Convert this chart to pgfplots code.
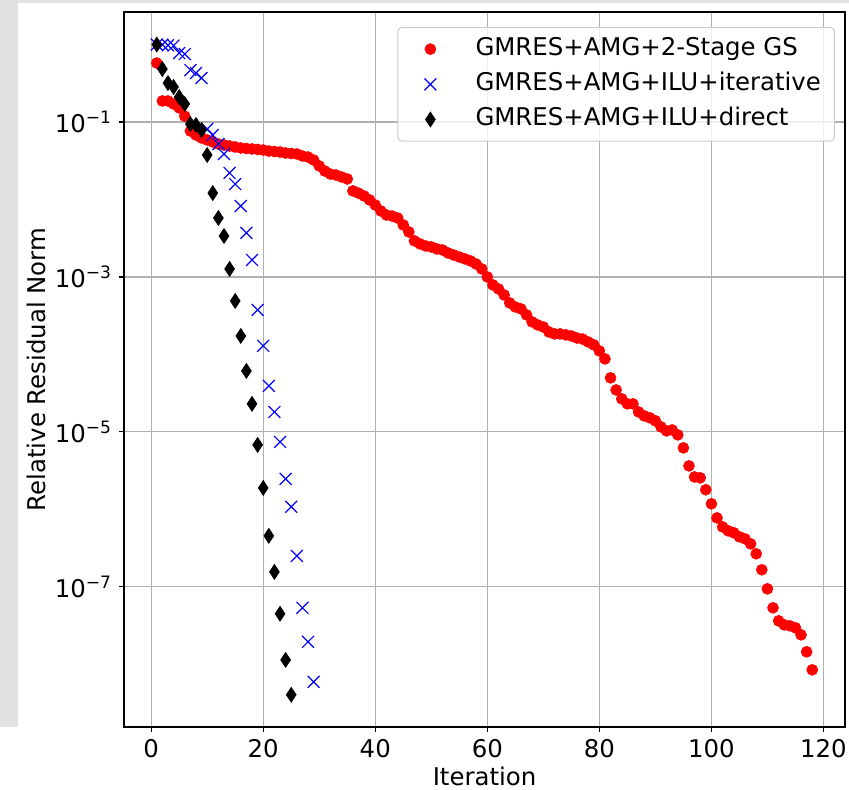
\documentclass[border=0pt]{standalone}
\usepackage{fontspec}
\setmainfont{DejaVu Sans}
\usepackage{pgfplots}
\pgfplotsset{compat=1.18}
\definecolor{gridgray}{RGB}{176,176,176}
\definecolor{leggray}{RGB}{204,204,204}
\definecolor{framegray}{RGB}{226,226,226}
\newcommand{\fs}{\fontsize{12.2}{14.6}\selectfont}
\begin{document}
\begin{tikzpicture}
\path[use as bounding box] (-62pt,-31pt) rectangle (362.5pt,363.5pt);
\fill[framegray] (-62pt,0pt) rectangle (-53pt,363.5pt);
\fill[framegray] (-62pt,362pt) rectangle (362.5pt,363.5pt);
\begin{axis}[
  at={(0pt,0pt)}, anchor=south west,
  scale only axis, width=360.5pt, height=357.5pt,
  xmin=-4.85, xmax=123.85,
  ymode=log, ymin=1.55e-9, ymax=2.63,
  xtick={0,20,...,120}, xticklabels={0,20,40,60,80,100,120},
  ytick={1e-1,1e-3,1e-5,1e-7},
  yticklabels={10\textsuperscript{−1},10\textsuperscript{−3},10\textsuperscript{−5},10\textsuperscript{−7}},
  yminorticks=false, xminorticks=false,
  grid=major, major grid style={gridgray, line width=0.55pt},
  axis line style={black, line width=0.55pt},
  tick align=outside, major tick length=2.45pt,
  tick style={black, line width=0.55pt},
  xtick pos=bottom, ytick pos=left,
  tick label style={font=\fs},
  label style={font=\fs},
  xlabel={Iteration}, ylabel={Relative Residual Norm},
  xlabel style={at={(axis description cs:0.5,-0.0811)}, anchor=base},
  ylabel style={at={(axis description cs:-0.1082,0.5)}, anchor=base},
  legend style={at={(axis description cs:0.9861,0.9790)}, anchor=north east,
    draw=leggray, line width=0.5pt, rounded corners=2pt, fill=white,
    fill opacity=0.8, text opacity=1, font=\fs,
    inner xsep=3pt, inner ysep=2pt, column sep=0pt,
    nodes={inner xsep=3.8pt, inner ysep=3.1pt, text height=8.8pt, text depth=2.6pt}},
  legend cell align=left,
  legend image code/.code={\path (0pt,0pt) (31.5pt,0pt); \draw[#1, sharp corners, fill opacity=1, draw opacity=1] plot coordinates {(13pt,0pt)};},
]
\addplot[only marks, mark=*, mark size=2.75pt, color=red, mark options={line width=0.3pt}] coordinates {
(1,0.577)(2,0.187)(3,0.187)(4,0.171)(5,0.152)(6,0.119)(7,0.0766)(8,0.0679)(9,0.0622)(10,0.0586)
(11,0.0552)(12,0.0520)(13,0.0505)(14,0.0490)(15,0.0476)(16,0.0462)(17,0.0455)(18,0.0449)(19,0.0442)(20,0.0435)
(21,0.0422)(22,0.0416)(23,0.0410)(24,0.0398)(25,0.0392)(26,0.0387)(27,0.0364)(28,0.0353)(29,0.0323)(30,0.0271)
(31,0.0233)(32,0.0213)(33,0.0207)(34,0.0195)(35,0.0184)(36,0.0129)(37,0.0121)(38,0.0111)(39,0.00986)(40,0.00849)
(41,0.00711)(42,0.00631)(43,0.00612)(44,0.00577)(45,0.00469)(46,0.00381)(47,0.00292)(48,0.00267)(49,0.00251)(50,0.00244)
(51,0.00230)(52,0.00223)(53,0.00204)(54,0.00192)(55,0.00181)(56,0.00171)(57,0.00161)(58,0.00147)(59,0.00127)(60,0.00100)
(61,7.88e-4)(62,7.00e-4)(63,5.86e-4)(64,4.62e-4)(65,4.10e-4)(66,3.87e-4)(67,3.24e-4)(68,2.63e-4)(69,2.40e-4)(70,2.26e-4)
(71,1.95e-4)(72,1.84e-4)(73,1.84e-4)(74,1.79e-4)(75,1.73e-4)(76,1.63e-4)(77,1.58e-4)(78,1.45e-4)(79,1.33e-4)(80,1.11e-4)
(81,8.75e-5)(82,4.98e-5)(83,3.48e-5)(84,2.67e-5)(85,2.30e-5)(86,2.30e-5)(87,1.81e-5)(88,1.61e-5)(89,1.52e-5)(90,1.39e-5)
(91,1.16e-5)(92,1.03e-5)(93,1.06e-5)(94,9.15e-6)(95,6.22e-6)(96,3.64e-6)(97,2.62e-6)(98,2.55e-6)(99,1.79e-6)(100,1.18e-6)
(101,7.76e-7)(102,5.94e-7)(103,5.28e-7)(104,4.98e-7)(105,4.42e-7)(106,4.16e-7)(107,3.59e-7)(108,2.67e-7)(109,1.66e-7)(110,9.42e-8)
(111,5.36e-8)(112,3.64e-8)(113,3.23e-8)(114,3.14e-8)(115,2.96e-8)(116,2.40e-8)(117,1.45e-8)(118,8.49e-9)
};
\addplot[only marks, mark=x, mark size=4.2pt, color=blue, mark options={line width=0.6pt}] coordinates {
(1,1.0)(2,1.0)(3,0.98)(4,0.97)(5,0.776)(6,0.753)(7,0.469)(8,0.428)(9,0.370)(10,0.0812)
(11,0.0679)(12,0.0520)(13,0.0387)(14,0.0220)(15,0.0158)(16,0.00824)(17,0.00370)(18,0.00166)(19,3.75e-4)(20,1.29e-4)
(21,3.93e-5)(22,1.81e-5)(23,7.43e-6)(24,2.48e-6)(25,1.08e-6)(26,2.51e-7)(27,5.36e-8)(28,1.95e-8)(29,5.94e-9)
};
\addplot[only marks, mark=diamond*, mark size=3.75pt, color=black, mark options={xscale=0.88, line width=0.3pt}] coordinates {
(1,1.0)(2,0.483)(3,0.318)(4,0.283)(5,0.210)(6,0.171)(7,0.0942)(8,0.0915)(9,0.0788)(10,0.0375)
(11,0.0121)(12,5.77e-3)(13,3.38e-3)(14,1.27e-3)(15,4.90e-4)(16,1.73e-4)(17,6.12e-5)(18,2.30e-5)(19,6.79e-6)(20,1.89e-6)
(21,4.55e-7)(22,1.56e-7)(23,4.49e-8)(24,1.14e-8)(25,4.04e-9)
};
\legend{GMRES+AMG+2-Stage GS, GMRES+AMG+ILU+iterative, GMRES+AMG+ILU+direct}
\end{axis}
\end{tikzpicture}
\end{document}
